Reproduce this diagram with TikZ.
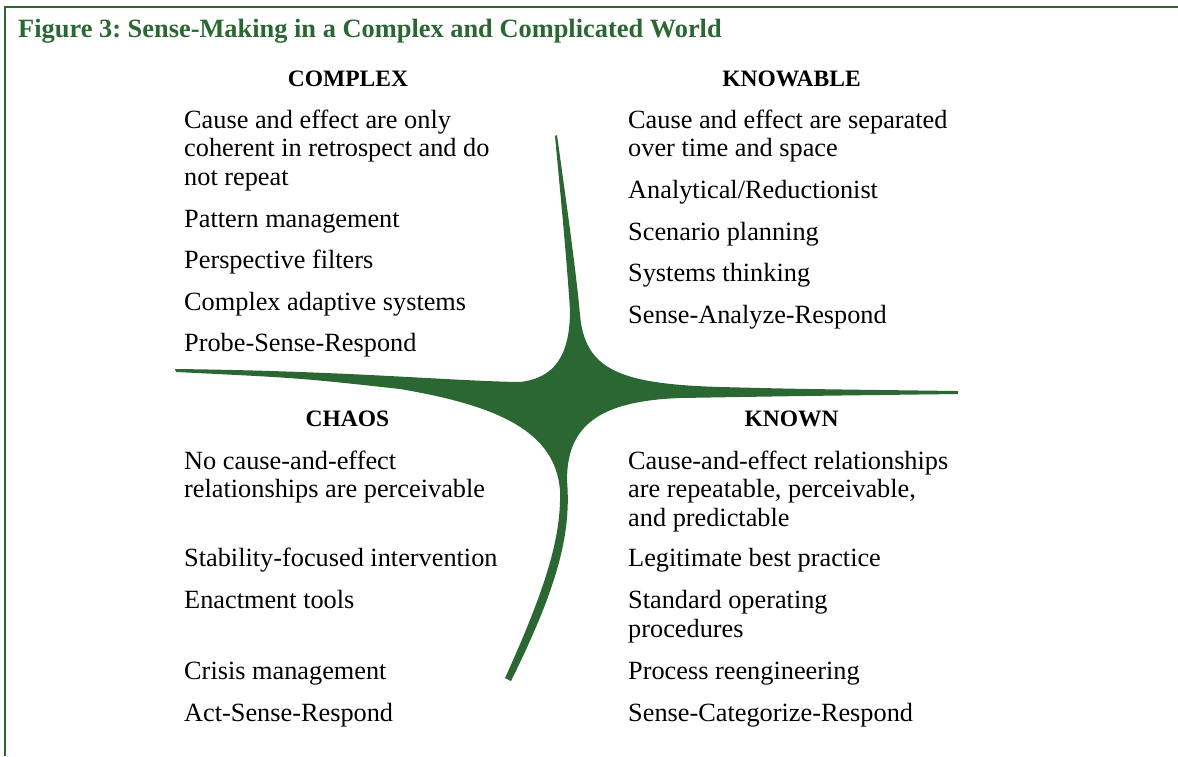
\documentclass[tikz,border=0pt]{standalone}
\usepackage{fontspec}
\setmainfont{Liberation Serif}
\definecolor{figgreen}{RGB}{43,103,51}
\frenchspacing
\begin{document}
\begin{tikzpicture}[x=1pt,y=-1pt,
  body/.style={anchor=base west,inner sep=0pt,font=\fontsize{26.3}{29}\selectfont},
  head/.style={anchor=base,inner sep=0pt,font=\fontsize{23.5}{26}\selectfont\bfseries},
  frameline/.style={draw=figgreen,line width=2pt}]
\useasboundingbox (0,0) rectangle (1178,756);
% frame
\coordinate (ftl) at (5,7);
\coordinate (ftr) at (1178,7);
\coordinate (fbl) at (5,756);
\draw[frameline] (ftr) -- (ftl) -- (fbl);
% title
\node[anchor=base west,inner sep=0pt,text=figgreen,font=\fontsize{26.4}{29}\selectfont\bfseries] (title) at (18,37.5) {Figure 3: Sense-Making in a Complex and Complicated World};
% central shape
\fill[figgreen] (557,135)
  .. controls (566,200) and (576,270) .. (580,315)
  .. controls (585,370) and (620,384) .. (720,387)
  .. controls (800,389) .. (958,391) -- (958,394)
  .. controls (800,396) .. (680,398)
  .. controls (600,401) and (567,425) .. (567,480)
  .. controls (571,530) and (561,580) .. (511,681)
  -- (505,678)
  .. controls (552,575) and (561,530) .. (560,490)
  .. controls (555,432) and (500,406) .. (400,389)
  .. controls (300,378) .. (176,372) -- (175,369)
  .. controls (350,371) and (450,381) .. (520,382)
  .. controls (555,378) and (570,355) .. (570,310)
  .. controls (566,250) and (560,190) .. (555,136) -- cycle;
% headings
\node[head] (hcomplex) at (348,86.5) {COMPLEX};
\node[head] (hknowable) at (791.5,86.5) {KNOWABLE};
\node[head] (hchaos) at (347.5,426) {CHAOS};
\node[head] (hknown) at (791.5,426) {KNOWN};
% complex
\node[body] (c1) at (184,128) {Cause and effect are only};
\node[body] (c2) at (184,156.7) {coherent in retrospect and do};
\node[body] (c3) at (184,185.4) {not repeat};
\node[body] (c4) at (184,227) {Pattern management};
\node[body] (c5) at (184,268.5) {Perspective filters};
\node[body] (c6) at (184,310) {Complex adaptive systems};
\node[body] (c7) at (184,351.5) {Probe-Sense-Respond};
% knowable
\node[body] (k1) at (628,128) {Cause and effect are separated};
\node[body] (k2) at (628,156.7) {over time and space};
\node[body] (k3) at (628,198.3) {Analytical/Reductionist};
\node[body] (k4) at (628,240) {Scenario planning};
\node[body] (k5) at (628,281.5) {Systems thinking};
\node[body] (k6) at (628,323) {Sense-Analyze-Respond};
% chaos
\node[body] (h1) at (184,469) {No cause-and-effect};
\node[body] (h2) at (184,497.7) {relationships are perceivable};
\node[body] (h3) at (184,566.5) {Stability-focused intervention};
\node[body] (h4) at (184,608.5) {Enactment tools};
\node[body] (h5) at (184,679.5) {Crisis management};
\node[body] (h6) at (184,721) {Act-Sense-Respond};
% known
\node[body] (n1) at (628,469) {Cause-and-effect relationships};
\node[body] (n2) at (628,497.7) {are repeatable, perceivable,};
\node[body] (n3) at (628,526.4) {and predictable};
\node[body] (n4) at (628,566.5) {Legitimate best practice};
\node[body] (n5) at (628,608.5) {Standard operating};
\node[body] (n6) at (628,637.2) {procedures};
\node[body] (n7) at (628,679.5) {Process reengineering};
\node[body] (n8) at (628,721) {Sense-Categorize-Respond};
\end{tikzpicture}
\end{document}
